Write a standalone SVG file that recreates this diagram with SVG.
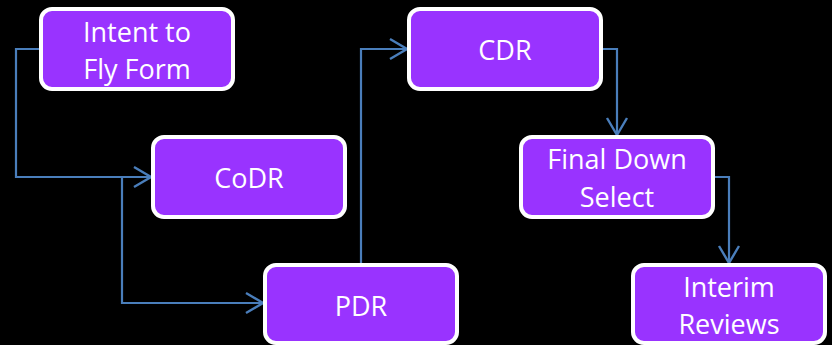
<svg xmlns="http://www.w3.org/2000/svg" width="832" height="345" viewBox="0 0 832 345">
  <style>
    .box { fill: #9933ff; stroke: #ffffff; stroke-width: 4; }
    .lbl { fill: #ffffff; font-family: "Open Sans", "Liberation Sans", sans-serif; font-size: 27px; text-anchor: middle; }
    .wire { fill: none; stroke: #4a7ebb; stroke-width: 2.2; }
  </style>
  <defs>
    <marker id="chev" markerUnits="userSpaceOnUse" viewBox="0 0 20 24" refX="18" refY="12" markerWidth="20" markerHeight="24" orient="auto">
      <path d="M1,2 L18,12 L1,22" fill="none" stroke="#4a7ebb" stroke-width="2.4"/>
    </marker>
  </defs>
  <rect width="832" height="345" fill="#000000"/>

  <g id="connectors">
    <path class="wire" d="M41,49 H16 V177 H151" marker-end="url(#chev)"/>
    <path class="wire" d="M122,177 V303 H263" marker-end="url(#chev)"/>
    <path class="wire" d="M361,263 V49 H407" marker-end="url(#chev)"/>
    <path class="wire" d="M603,49 H617 V135" marker-end="url(#chev)"/>
    <path class="wire" d="M715,177 H729 V263" marker-end="url(#chev)"/>
  </g>

  <g id="intent">
    <rect class="box" x="41" y="9" width="192" height="80" rx="11"/>
    <text class="lbl" x="137" y="42">Intent to</text>
    <text class="lbl" x="137" y="79">Fly Form</text>
  </g>
  <g id="codr">
    <rect class="box" x="153" y="137" width="192" height="80" rx="11"/>
    <text class="lbl" x="249" y="188">CoDR</text>
  </g>
  <g id="pdr">
    <rect class="box" x="265" y="265" width="192" height="78" rx="11"/>
    <text class="lbl" x="361" y="316">PDR</text>
  </g>
  <g id="cdr">
    <rect class="box" x="409" y="9" width="192" height="80" rx="11"/>
    <text class="lbl" x="505" y="60">CDR</text>
  </g>
  <g id="final-down-select">
    <rect class="box" x="521" y="137" width="192" height="80" rx="11"/>
    <text class="lbl" x="617" y="169">Final Down</text>
    <text class="lbl" x="617" y="207">Select</text>
  </g>
  <g id="interim-reviews">
    <rect class="box" x="633" y="265" width="192" height="78" rx="11"/>
    <text class="lbl" x="729" y="297">Interim</text>
    <text class="lbl" x="729" y="334">Reviews</text>
  </g>
</svg>
